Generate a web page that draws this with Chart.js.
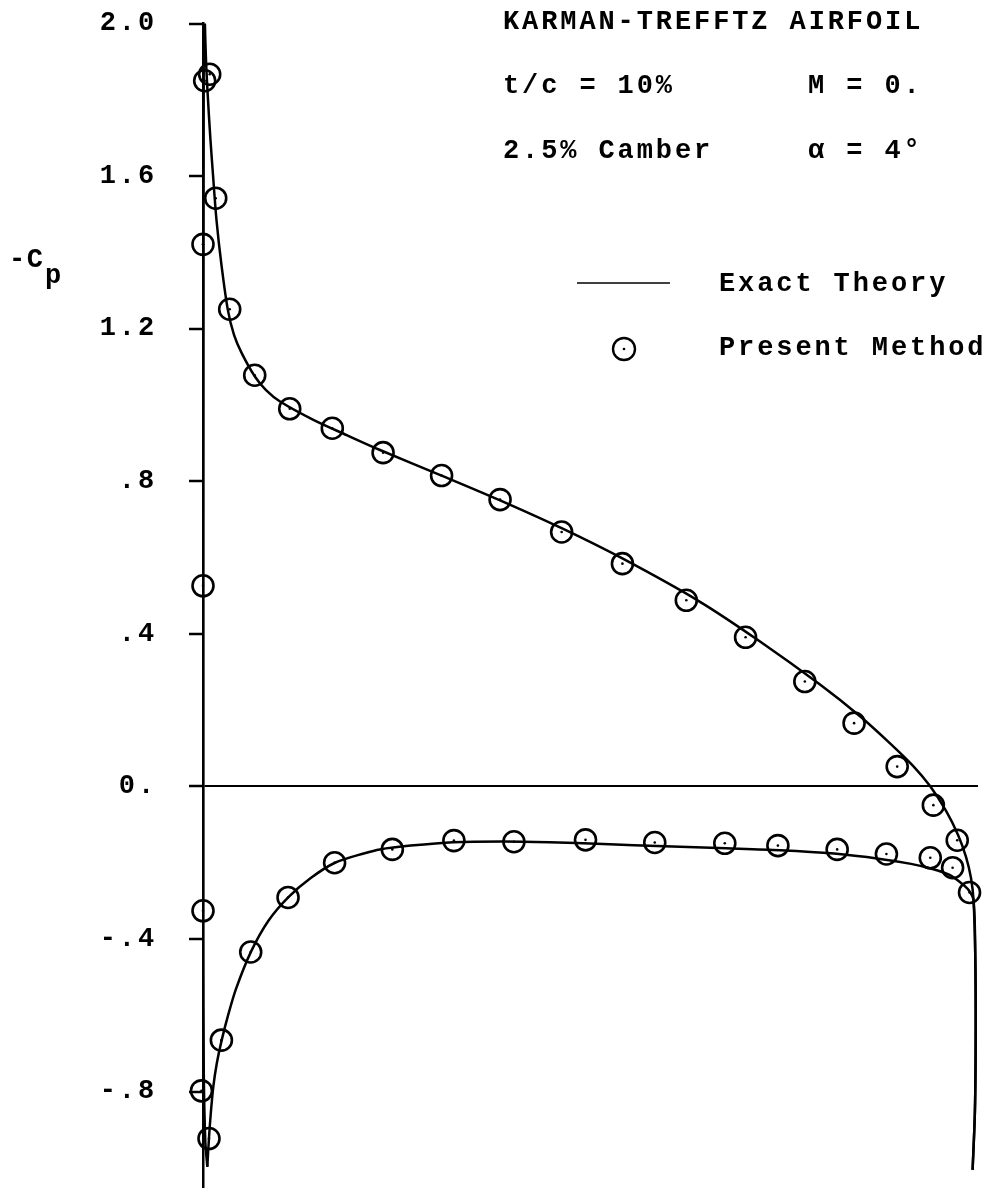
<!DOCTYPE html>
<html>
<head>
<meta charset="utf-8">
<title>Karman-Trefftz airfoil pressure distribution</title>
<script src="https://cdn.jsdelivr.net/npm/chart.js@4.4.1/dist/chart.umd.min.js"></script>
<style>
  html, body { margin: 0; padding: 0; background: #fff; }
  #wrap { position: relative; width: 992px; height: 1189px; }
</style>
</head>
<body>
<div id="wrap"><canvas id="cpChart"></canvas></div>
<script>
// --- exact theory, upper branch: stagnation point, round the nose, then back to the trailing edge ---
const theoryUpperX = [0.0056, 0.003, 0.001, 0.0, 0.0, 0.0002, 0.0008, 0.0013, 0.0022, 0.0039, 0.0065, 0.0097, 0.013,
  0.0175, 0.024, 0.0322, 0.0403, 0.0503, 0.0676, 0.0819, 0.1001, 0.1434, 0.1867, 0.230, 0.310, 0.386,
  0.466, 0.5455, 0.6458, 0.7238, 0.8017, 0.8537, 0.8927, 0.9226, 0.9447, 0.9655, 0.9811, 0.9915, 0.9979, 1.0012,
  1.0035, 1.004, 1.003, 1.0];
const theoryUpperY = [-0.997, -0.93, -0.75, -0.4, 0.3, 1.0, 1.8, 2.12, 2.02, 1.904, 1.80, 1.695, 1.603,
  1.485, 1.367, 1.25, 1.184, 1.136, 1.074, 1.039, 1.009, 0.961, 0.921, 0.882, 0.815, 0.750,
  0.677, 0.597, 0.484, 0.380, 0.267, 0.184, 0.113, 0.054, 0.001, -0.064, -0.127, -0.185, -0.240, -0.298,
  -0.45, -0.65, -0.85, -1.005];

// --- exact theory, lower branch ---
const theoryLowerX = [0.0056, 0.0075, 0.010, 0.0134, 0.018, 0.0243, 0.033, 0.043, 0.0624, 0.085, 0.111, 0.14, 0.1715,
  0.21, 0.2297, 0.27, 0.325, 0.39, 0.45, 0.52, 0.60, 0.68, 0.75, 0.82, 0.88, 0.92, 0.949, 0.970, 0.985, 0.995,
  1.0012, 1.0035, 1.004, 1.003, 1.0];
const theoryLowerY = [-0.997, -0.93, -0.86, -0.787, -0.725, -0.665, -0.597, -0.530, -0.433, -0.352, -0.290, -0.240, -0.200,
  -0.175, -0.165, -0.155, -0.146, -0.144, -0.146, -0.151, -0.157, -0.162, -0.167, -0.176, -0.190, -0.203, -0.217, -0.232, -0.253, -0.272,
  -0.298, -0.45, -0.65, -0.85, -1.005];

// --- panel method (present method) ---
const presentX = [0.0022, 0.0087, 0.0165, 0.0, 0.0347, 0.0672, 0.1127, 0.168, 0.234, 0.310, 0.386, 0.466, 0.545, 0.628,
  0.705, 0.782, 0.846, 0.902, 0.949, 0.980, 0.996,
  0.0, 0.0, -0.002, 0.0078,
  0.0239, 0.062, 0.1105, 0.171, 0.246, 0.326, 0.404, 0.497, 0.587, 0.678, 0.747, 0.824, 0.888, 0.945, 0.974];
const presentY = [1.850, 1.867, 1.542, 1.421, 1.251, 1.078, 0.990, 0.939, 0.875, 0.815, 0.752, 0.667, 0.584, 0.488,
  0.391, 0.275, 0.166, 0.052, -0.049, -0.141, -0.278,
  0.526, -0.326, -0.798, -0.923,
  -0.665, -0.434, -0.291, -0.200, -0.165, -0.142, -0.145, -0.140, -0.147, -0.149, -0.155, -0.165, -0.177, -0.187, -0.213];

// y axis ticks
const tickValues = [-0.8, -0.4, 0, 0.4, 0.8, 1.2, 1.6, 2.0];
const tickLabels = ['-.8', '-.4', '0.', '.4', '.8', '1.2', '1.6', '2.0'];

const FONT = '"Liberation Mono", "Courier New", monospace';
const INK = '#000';

function toPoints(xs, ys) {
    return xs.map((x, i) => ({ x: x, y: ys[i] }));
}

// header text, legend and the -Cp label
const notes = {
    id: 'notes',
    beforeDraw(chart) {
        chart.ctx.letterSpacing = '2.9px'; // typewriter spacing, kept for tick labels too
    },
    afterDraw(chart) {
        const ctx = chart.ctx;
        ctx.save();
        ctx.fillStyle = INK;
        ctx.strokeStyle = INK;
        ctx.textAlign = 'left';
        ctx.textBaseline = 'alphabetic';
        ctx.font = 'bold 27px ' + FONT;

        ctx.fillText('KARMAN-TREFFTZ AIRFOIL', 503, 29);
        ctx.fillText('t/c = 10%', 503, 93);
        ctx.fillText('M = 0.', 808, 93);
        ctx.fillText('2.5% Camber', 503, 158);
        ctx.fillText('\u03B1 = 4\u00B0', 808, 158);

        // legend
        ctx.lineWidth = 1.6;
        ctx.beginPath();
        ctx.moveTo(577, 283);
        ctx.lineTo(670, 283);
        ctx.stroke();
        ctx.fillText('Exact Theory', 719, 291);

        ctx.lineWidth = 2.4;
        ctx.beginPath();
        ctx.arc(624, 349, 11, 0, Math.PI * 2);
        ctx.stroke();
        ctx.beginPath();
        ctx.arc(624, 349, 1.3, 0, Math.PI * 2);
        ctx.fill();
        ctx.fillText('Present Method', 719, 355);

        // axis label -Cp
        ctx.letterSpacing = '1.5px';
        ctx.fillText('-C', 9, 267);
        ctx.fillText('p', 45, 283);
        ctx.restore();
    }
};

const ctx = document.getElementById('cpChart').getContext('2d');
new Chart(ctx, {
    type: 'scatter',
    data: {
        datasets: [
            {
                label: 'Exact Theory upper',
                data: toPoints(theoryUpperX, theoryUpperY),
                showLine: true,
                borderColor: INK,
                borderWidth: 2.5,
                pointRadius: 0,
                tension: 0.3
            },
            {
                label: 'Exact Theory lower',
                data: toPoints(theoryLowerX, theoryLowerY),
                showLine: true,
                borderColor: INK,
                borderWidth: 2.5,
                pointRadius: 0,
                tension: 0.3
            },
            {
                label: 'Present Method',
                data: toPoints(presentX, presentY),
                showLine: false,
                pointStyle: 'circle',
                pointRadius: 10.5,
                pointBorderWidth: 2.6,
                pointBorderColor: INK,
                pointBackgroundColor: 'rgba(0,0,0,0)',
                clip: false
            },
            {
                label: 'Present Method centre',
                data: toPoints(presentX, presentY),
                showLine: false,
                pointRadius: 1.3,
                pointBorderWidth: 0,
                pointBackgroundColor: INK,
                clip: false
            }
        ]
    },
    options: {
        animation: false,
        responsive: true,
        maintainAspectRatio: false,
        events: [],
        layout: {
            autoPadding: false,
            padding: { left: 0, right: 14, top: 23.5, bottom: 2 }
        },
        plugins: {
            legend: { display: false },
            tooltip: { enabled: false }
        },
        scales: {
            x: {
                type: 'linear',
                min: 0,
                max: 1.007,
                display: false
            },
            y: {
                type: 'linear',
                position: 'left',
                min: -1.05,
                max: 2.0,
                afterFit(scale) {
                    // fixed axis width, and no extra room above/below for the labels
                    scale.width = 203;
                    scale.paddingTop = 0;
                    scale.paddingBottom = 0;
                },
                afterBuildTicks(scale) {
                    scale.ticks = tickValues.map(v => ({ value: v }));
                },
                ticks: {
                    autoSkip: false,
                    color: INK,
                    padding: 32,
                    font: { family: FONT, size: 27, weight: 'bold' },
                    callback: (value, index) => tickLabels[index]
                },
                grid: {
                    // only the zero line runs across the plot
                    color: (c) => (c.tick && c.tick.value === 0 ? INK : 'rgba(0,0,0,0)'),
                    lineWidth: 2,
                    tickColor: INK,
                    tickWidth: 2.5,
                    tickLength: 14
                },
                border: { color: INK, width: 2.5 }
            }
        }
    },
    plugins: [notes]
});
</script>
</body>
</html>
